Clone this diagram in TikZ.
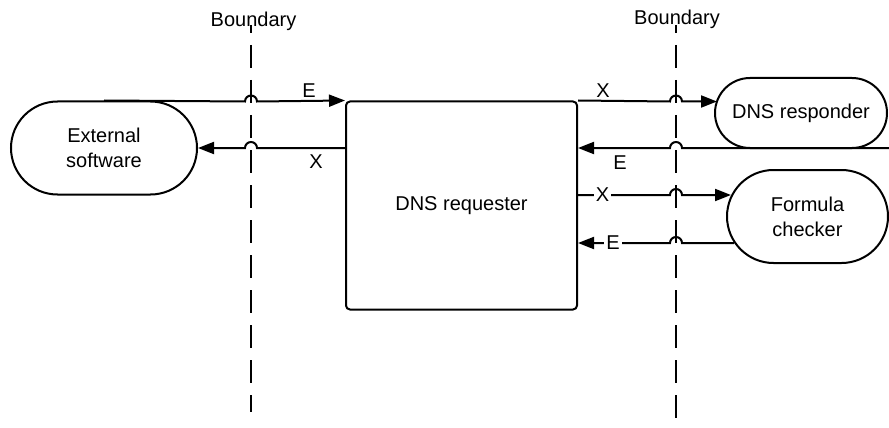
\documentclass[tikz,border=0pt]{standalone}
\usepackage{fontspec}
\setmainfont{Liberation Sans}
\usetikzlibrary{shapes.misc,arrows.meta,calc}
\begin{document}
\begin{tikzpicture}[x=0.75pt,y=-0.75pt,
  every node/.style={font=\fontsize{15}{18.75}\selectfont},
  stadium/.style={rounded rectangle, draw, line width=1.5pt, inner sep=0pt, align=center, fill=white},
  procbox/.style={rectangle, rounded corners=3pt, draw, line width=1.5pt, inner sep=0pt, align=center},
  conn/.style={line width=1.5pt, -{Triangle[length=12pt,width=9pt]}},
  bound/.style={line width=1.5pt, dash pattern=on 17.25pt off 9pt, dash phase=11.25pt},
  lbl/.style={inner sep=1pt},
  ilbl/.style={inner sep=1.5pt, fill=white}]
\useasboundingbox (0,0) rectangle (889,428);

% boundaries
\node[anchor=base] (b1) at (253.5,27) {Boundary};
\node[anchor=base] (b2) at (677,25) {Boundary};
\coordinate (b1t) at (251,25);
\coordinate (b1b) at (251,412);
\coordinate (b2t) at (676,25);
\coordinate (b2b) at (676,428);
\draw[bound] (b1t) -- (b1b);
\draw[bound] (b2t) -- (b2b);

% nodes
\node[stadium, minimum width=139.5pt, minimum height=69.75pt] (ext) at (104,148) {External\\software};
\node[procbox, minimum width=173.25pt, minimum height=156pt] (req) at (461.5,205.5) {DNS requester};
\node[stadium, minimum width=129pt, minimum height=52.5pt] (resp) at (801,113) {DNS responder};
\node[stadium, minimum width=120.75pt, minimum height=69.75pt] (form) at (807.5,216.5) {Formula\\checker};

% hop points and free ends
\coordinate (h1) at (251,101.5);
\coordinate (h2) at (251,148);
\coordinate (h3) at (676,101.5);
\coordinate (h4) at (676,148);
\coordinate (h5) at (676,195);
\coordinate (h6) at (676,243);
\coordinate (t3) at (717,101.5);
\coordinate (rin) at (889,148);
\coordinate (t5) at (731,195);
\coordinate (f6) at (734,243);

% connectors
\draw[conn] (ext.north) -- ([xshift=-4.5pt]h1) arc[start angle=180,end angle=0,radius=4.5pt] -- (req.north west);
\draw[conn] (req.west |- h2) -- ([xshift=4.5pt]h2) arc[start angle=0,end angle=180,radius=4.5pt] -- (ext.east);
\draw[conn] (req.north east) -- ([xshift=-4.5pt]h3) arc[start angle=180,end angle=0,radius=4.5pt] -- (t3);
\draw[conn] (rin) -- ([xshift=4.5pt]h4) arc[start angle=0,end angle=180,radius=4.5pt] -- (req.east |- h4);
\draw[conn] (req.east |- h5) -- ([xshift=-4.5pt]h5) arc[start angle=180,end angle=0,radius=4.5pt] -- (t5);
\draw[conn] (f6) -- ([xshift=4.5pt]h6) arc[start angle=0,end angle=180,radius=4.5pt] -- (req.east |- h6);

% labels
\node[lbl] (l1) at (309,91) {E};
\node[lbl] (l2) at (316,162) {X};
\node[lbl] (l3) at (603,91) {X};
\node[lbl] (l4) at (620,163) {E};
\node[ilbl] (l5) at (602.5,195) {X};
\node[ilbl] (l6) at (613,243) {E};
\end{tikzpicture}
\end{document}
